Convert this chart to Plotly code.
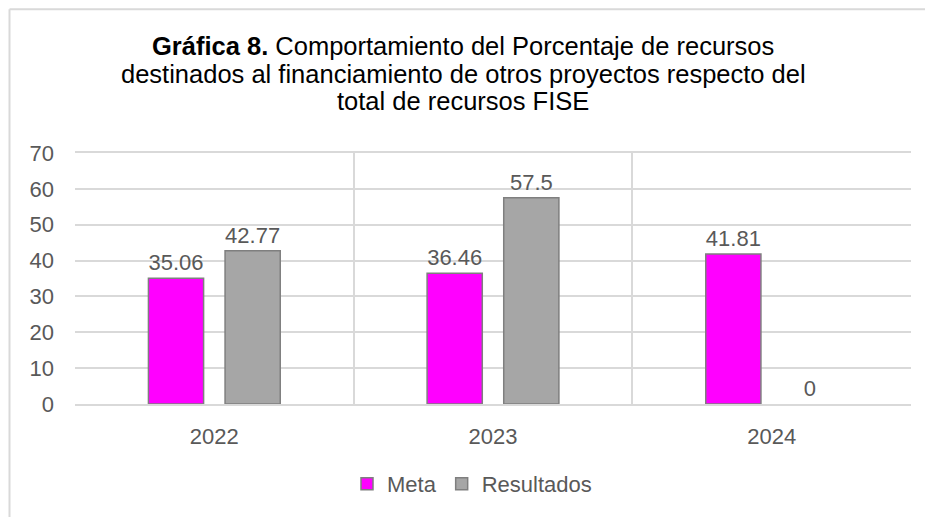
import plotly.graph_objects as go

years = ["2022", "2023", "2024"]
meta = [35.06, 36.46, 41.81]
resultados = [42.77, 57.5, 0]
meta_labels = ["35.06", "36.46", "41.81"]
res_labels = ["42.77", "57.5", "0"]
y_ticks = [0, 10, 20, 30, 40, 50, 60, 70]
title_lines = [
    "<b>Gráfica 8.</b> Comportamiento del Porcentaje de recursos",
    "destinados al financiamiento de otros proyectos respecto del",
    "total de recursos FISE",
]

FONT = "Liberation Sans, Arial, sans-serif"
TXT = "#595959"
GRID = "#D9D9D9"
FS = 22

fig = go.Figure()
fig.add_trace(go.Bar(
    x=years, y=meta, name="Meta", text=meta_labels, textposition="outside",
    marker=dict(color="#FF00FF", line=dict(color="#7F7F7F", width=1.5)),
    textfont=dict(size=FS, color=TXT, family=FONT), cliponaxis=False,
))
fig.add_trace(go.Bar(
    x=years, y=resultados, name="Resultados", text=res_labels, textposition="outside",
    marker=dict(color="#A6A6A6",
                line=dict(color="#7F7F7F", width=[1.5 if v else 0 for v in resultados])),
    textfont=dict(size=FS, color=TXT, family=FONT), cliponaxis=False,
))

W, H = 925, 517
L, R, T, B = 75, 14, 153, 110
pw, ph = W - L - R, H - T - B
xl = (9.5 - L) / pw
yt = (H - B - 7.5) / ph

annotations = []
for line, ypx in zip(title_lines, [45, 73, 100]):
    annotations.append(dict(
        text=line, xref="paper", yref="paper",
        x=(463 - L) / pw, y=(H - B - ypx) / ph, xanchor="center", yanchor="middle",
        showarrow=False, font=dict(size=25.5, color="#000000", family=FONT),
    ))

fig.update_layout(
    width=W, height=H,
    margin=dict(l=L, r=R, t=T, b=B),
    paper_bgcolor="white", plot_bgcolor="white",
    font=dict(family=FONT, color=TXT, size=FS),
    barmode="group", bargap=0.45, bargroupgap=0.28,
    xaxis=dict(
        tickson="boundaries", showgrid=True, gridcolor=GRID, gridwidth=1.5,
        showline=True, linecolor=GRID, linewidth=1.5, mirror=True,
        ticks="", tickfont=dict(size=FS, color=TXT), ticklabelstandoff=12,
    ),
    yaxis=dict(
        range=[0, 70], tickvals=y_ticks, showgrid=True, gridcolor=GRID, gridwidth=1.5,
        zeroline=False, ticks="", tickfont=dict(size=FS, color=TXT), ticklabelstandoff=20,
    ),
    legend=dict(
        orientation="h", x=(472 - L) / pw, xanchor="center", y=(H - B - 488) / ph, yanchor="middle",
        font=dict(size=FS, color=TXT), itemwidth=30, traceorder="normal",
    ),
    annotations=annotations,
    shapes=[
        dict(type="line", xref="paper", yref="paper", x0=xl, x1=xl, y0=-1, y1=yt,
             line=dict(color=GRID, width=2)),
        dict(type="line", xref="paper", yref="paper", x0=xl, x1=1.2, y0=yt, y1=yt,
             line=dict(color=GRID, width=2)),
    ],
)

fig.write_html("out.html", config={"displayModeBar": False},
               post_script="document.body.style.margin='0px';")
